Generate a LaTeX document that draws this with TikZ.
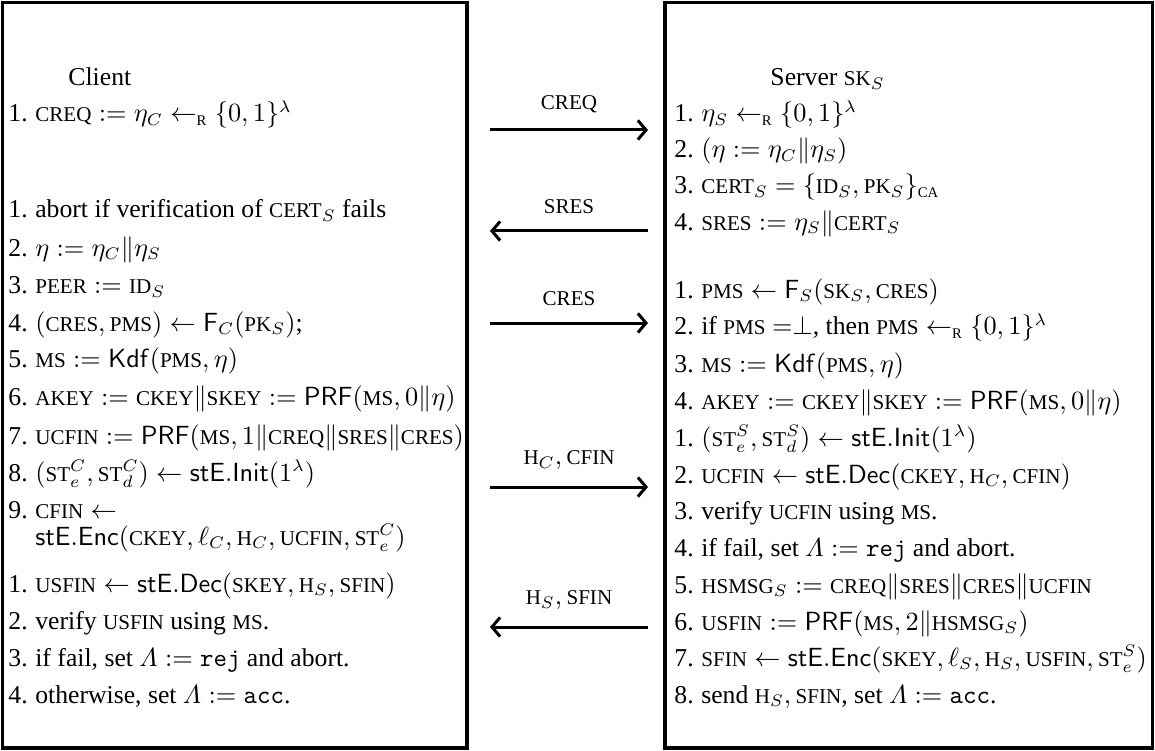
\documentclass[tikz,border=0pt]{standalone}
\usepackage[no-math]{fontspec}
\setmainfont{Liberation Serif}
\usepackage{amsmath}
\usepackage{graphicx}
\usetikzlibrary{arrows.meta}
\newcommand\ksc[1]{\text{\scalebox{0.82}{#1}}}
\newcommand\Rs{\leftarrow_{\ksc{R}}}
\newlength\numw
\setlength\numw{11.2pt}
\newcommand\ii[1]{\makebox[\numw][l]{#1}}
\begin{document}
\begin{tikzpicture}[x=0.41667pt,y=-0.41667pt,
  ln/.style={anchor=base west, inner sep=0pt, font=\fontsize{10.7}{12.8}\selectfont},
  boxline/.style={line width=1.6pt},
  msg/.style={line width=1.25pt, -{Straight Barb[length=3.4pt,width=8pt]}},
  lab/.style={above=6.5pt, inner sep=0pt, font=\fontsize{10.7}{12.8}\selectfont}]
\useasboundingbox (0,0) rectangle (1155,751);
% boxes
\draw[boxline] (2.5,2.5) rectangle (467,748);
\draw[boxline] (665,2.5) rectangle (1152.5,748);
% client side
\node[ln] (client) at (68,86) {Client};
\node[ln] (c1) at (8,122) {\ii{1.}$\ksc{CREQ} := \eta_C \Rs \{0,1\}^\lambda$};
\node[ln] (d1) at (8,218) {\ii{1.}abort if verification of $\ksc{CERT}_S$ fails};
\node[ln] (d2) at (8,256) {\ii{2.}$\eta := \eta_C \| \eta_S$};
\node[ln] (d3) at (8,294) {\ii{3.}$\ksc{PEER} := \ksc{ID}_S$};
\node[ln] (d4) at (8,331) {\ii{4.}$(\ksc{CRES}, \ksc{PMS}) \leftarrow \mathsf{F}_C(\ksc{PK}_S)$;};
\node[ln] (d5) at (8,368) {\ii{5.}$\ksc{MS} := \mathsf{Kdf}(\ksc{PMS}, \eta)$};
\node[ln] (d6) at (8,405) {\ii{6.}$\ksc{AKEY} := \ksc{CKEY} \| \ksc{SKEY} := \mathsf{PRF}(\ksc{MS}, 0 \| \eta)$};
\node[ln] (d7) at (8,444) {\ii{7.}$\ksc{UCFIN} := \mathsf{PRF}(\ksc{MS}, 1 \| \ksc{CREQ} \| \ksc{SRES} \| \ksc{CRES})$};
\node[ln] (d8) at (8,481) {\ii{8.}$(\ksc{ST}^C_e, \ksc{ST}^C_d) \leftarrow \mathsf{stE.Init}(1^\lambda)$};
\node[ln] (d9) at (8,518) {\ii{9.}$\ksc{CFIN} \leftarrow$};
\node[ln] (d9b) at (8,545) {\ii{}$\mathsf{stE.Enc}(\ksc{CKEY}, \ell_C, \ksc{H}_C, \ksc{UCFIN}, \ksc{ST}^C_e)$};
\node[ln] (e1) at (8,592) {\ii{1.}$\ksc{USFIN} \leftarrow \mathsf{stE.Dec}(\ksc{SKEY}, \ksc{H}_S, \ksc{SFIN})$};
\node[ln] (e2) at (8,629) {\ii{2.}verify \ksc{USFIN} using \ksc{MS}.};
\node[ln] (e3) at (8,666) {\ii{3.}if fail, set $\varLambda := \texttt{rej}$ and abort.};
\node[ln] (e4) at (8,703) {\ii{4.}otherwise, set $\varLambda := \texttt{acc}$.};
% server side
\node[ln] (server) at (770,86) {Server $\ksc{SK}_S$};
\node[ln] (s1) at (674,122) {\ii{1.}$\eta_S \Rs \{0,1\}^\lambda$};
\node[ln] (s2) at (674,158) {\ii{2.}$(\eta := \eta_C \| \eta_S)$};
\node[ln] (s3) at (674,194) {\ii{3.}$\ksc{CERT}_S = \{\ksc{ID}_S, \ksc{PK}_S\}_{\ksc{CA}}$};
\node[ln] (s4) at (674,230) {\ii{4.}$\ksc{SRES} := \eta_S \| \ksc{CERT}_S$};
\node[ln] (t1) at (674,298) {\ii{1.}$\ksc{PMS} \leftarrow \mathsf{F}_S(\ksc{SK}_S, \ksc{CRES})$};
\node[ln] (t2) at (674,335) {\ii{2.}if $\ksc{PMS}\ {=}\bot$, then $\ksc{PMS} \Rs \{0,1\}^\lambda$};
\node[ln] (t3) at (674,372) {\ii{3.}$\ksc{MS} := \mathsf{Kdf}(\ksc{PMS}, \eta)$};
\node[ln] (t4) at (674,409) {\ii{4.}$\ksc{AKEY} := \ksc{CKEY} \| \ksc{SKEY} := \mathsf{PRF}(\ksc{MS}, 0 \| \eta)$};
\node[ln] (u1) at (674,446) {\ii{1.}$(\ksc{ST}^S_e, \ksc{ST}^S_d) \leftarrow \mathsf{stE.Init}(1^\lambda)$};
\node[ln] (u2) at (674,483) {\ii{2.}$\ksc{UCFIN} \leftarrow \mathsf{stE.Dec}(\ksc{CKEY}, \ksc{H}_C, \ksc{CFIN})$};
\node[ln] (u3) at (674,519) {\ii{3.}verify \ksc{UCFIN} using \ksc{MS}.};
\node[ln] (u4) at (674,556) {\ii{4.}if fail, set $\varLambda := \texttt{rej}$ and abort.};
\node[ln] (u5) at (674,593) {\ii{5.}$\ksc{HSMSG}_S := \ksc{CREQ} \| \ksc{SRES} \| \ksc{CRES} \| \ksc{UCFIN}$};
\node[ln] (u6) at (674,630) {\ii{6.}$\ksc{USFIN} := \mathsf{PRF}(\ksc{MS}, 2 \| \ksc{HSMSG}_S)$};
\node[ln] (u7) at (674,666) {\ii{7.}$\ksc{SFIN} \leftarrow \mathsf{stE.Enc}(\ksc{SKEY}, \ell_S, \ksc{H}_S, \ksc{USFIN}, \ksc{ST}^S_e)$};
\node[ln] (u8) at (674,703) {\ii{8.}send $\ksc{H}_S, \ksc{SFIN}$, set $\varLambda := \texttt{acc}$.};
% messages
\coordinate (m1a) at (490,130); \coordinate (m1b) at (648,130);
\coordinate (m2a) at (490,231); \coordinate (m2b) at (648,231);
\coordinate (m3a) at (490,323); \coordinate (m3b) at (648,323);
\coordinate (m4a) at (490,487); \coordinate (m4b) at (648,487);
\coordinate (m5a) at (490,627); \coordinate (m5b) at (648,627);
\draw[msg] (m1a) -- node[lab] (l1) {\ksc{CREQ}} (m1b);
\draw[msg] (m2b) -- node[lab] (l2) {\ksc{SRES}} (m2a);
\draw[msg] (m3a) -- node[lab] (l3) {\ksc{CRES}} (m3b);
\draw[msg] (m4a) -- node[lab] (l4) {$\ksc{H}_C, \ksc{CFIN}$} (m4b);
\draw[msg] (m5b) -- node[lab] (l5) {$\ksc{H}_S, \ksc{SFIN}$} (m5a);
\end{tikzpicture}
\end{document}
